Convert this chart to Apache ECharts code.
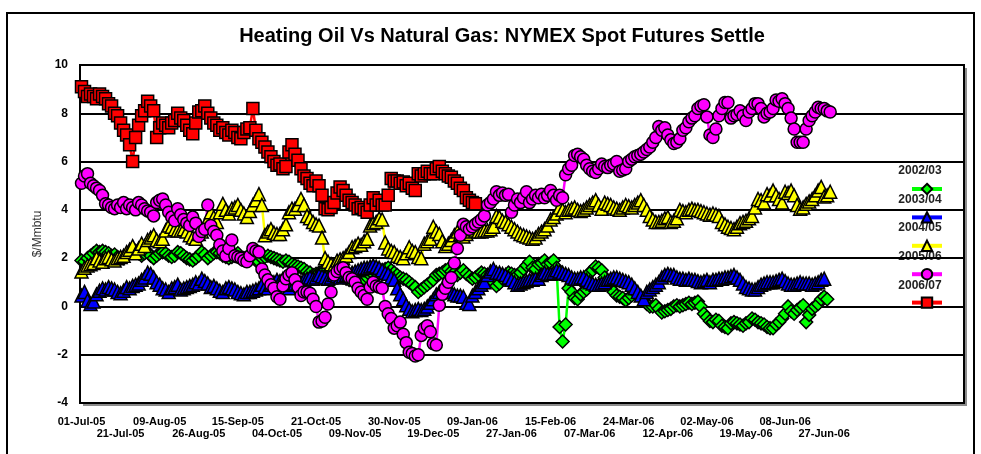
<!DOCTYPE html>
<html lang="en">

<head>
    <meta charset="UTF-8">
    <title>Heating Oil Vs Natural Gas</title>
    <script src="https://cdn.jsdelivr.net/npm/echarts@6.0.0/dist/echarts.min.js"></script>
    <style>
        * {
            margin: 0;
            padding: 0;
        }

        body {
            background: #fff;
        }

        #main {
            width: 981px;
            height: 454px;
        }
    </style>
</head>

<body>
    <div id="main"></div>
    <script>
        // trading days (NYMEX calendar) starting 01-Jul-05
        var startDate = '2005-07-01';
        var holidays = ['2005-07-04', '2005-09-05', '2005-11-24', '2005-11-25', '2005-12-26',
            '2006-01-02', '2006-01-16', '2006-02-20', '2006-04-14', '2006-05-29'];
        var tradingDays = 250;
        var axisSlots = 294;   // axis runs on past the data, legend sits there
        var labelEvery = 13;
        var months = ['Jan', 'Feb', 'Mar', 'Apr', 'May', 'Jun', 'Jul', 'Aug', 'Sep', 'Oct', 'Nov', 'Dec'];

        var seriesNames = ['2002/03', '2003/04', '2004/05', '2005/06', '2006/07'];

        var s0203 = [1.9, 1.85, 2.0, 2.1, 2.2, 2.3, 2.25, 2.3, 2.25, 2.2,
            2.1, 2.15, 2.05, 2.0, 2.0, 2.1, 2.2, 2.25, 2.3, 2.2,
            2.1, 2.2, 2.25, 2.1, 2.0, 2.1, 2.2, 2.25, 2.2, 2.1,
            2.05, 2.1, 2.25, 2.2, 2.1, 2.0, 1.95, 1.9, 2.0, 2.1,
            2.25, 2.15, 2.0, 2.1, 2.2, 2.25, 2.2, 2.1, 2.05, 2.0,
            2.05, 2.1, 2.2, 2.0, 2.0, 2.05, 2.1, 2.0, 1.9, 1.85,
            2.0, 2.05, 2.1, 2.05, 2.0, 1.95, 1.9, 1.85, 1.9, 1.85,
            1.75, 1.7, 1.65, 1.6, 1.55, 1.45, 1.4, 1.3, 1.35, 1.4,
            1.45, 1.5, 1.4, 1.4, 1.4, 1.35, 1.3, 1.2, 1.15, 1.1,
            1.1, 1.15, 1.1, 1.1, 1.15, 1.2, 1.3, 1.35, 1.4, 1.4,
            1.5, 1.55, 1.6, 1.5, 1.4, 1.3, 1.2, 1.15, 1.1, 1.0,
            0.9, 0.8, 0.6, 0.7, 0.8, 0.9, 1.0, 1.1, 1.3, 1.35,
            1.4, 1.5, 1.55, 1.45, 1.4, 1.3, 1.4, 1.5, 1.35, 1.25,
            1.15, 1.2, 1.3, 1.4, 1.35, 1.3, 1.15, 1.0, 0.85, 0.95,
            1.15, 1.25, 1.4, 1.35, 1.3, 1.3, 1.4, 1.55, 1.7, 1.85,
            1.6, 1.55, 1.75, 1.8, 1.9, 1.75, 1.8, 1.9, 1.6, -0.85,
            -1.45, -0.75, 0.75, 0.6, 0.35, 0.3, 0.5, 0.6, 0.7, 1.4,
            1.5, 1.65, 1.6, 1.5, 1.2, 1.0, 0.75, 0.6, 0.45, 0.4,
            0.35, 0.25, 0.35, 0.45, 0.6, 0.5, 0.4, 0.25, 0.1, 0.0,
            0.0, 0.05, -0.1, -0.25, -0.2, -0.15, -0.1, 0.0, 0.05, 0.0,
            0.05, 0.1, 0.15, 0.1, 0.15, 0.2, 0.0, -0.3, -0.45, -0.6,
            -0.65, -0.55, -0.6, -0.8, -0.85, -0.9, -0.7, -0.65, -0.7, -0.75,
            -0.8, -0.7, -0.65, -0.5, -0.55, -0.65, -0.7, -0.75, -0.85, -0.9,
            -0.9, -0.75, -0.65, -0.5, -0.3, 0.0, -0.2, -0.3, -0.15, -0.05,
            0.05, -0.65, -0.35, -0.1, 0.0, 0.1, 0.3, 0.4, 0.3];

        var s0304 = [0.45, 0.6, 0.25, 0.1, 0.2, 0.5, 0.65, 0.75, 0.7, 0.8,
            0.75, 0.7, 0.6, 0.55, 0.65, 0.8, 0.75, 0.85, 0.9, 0.95,
            1.1, 1.2, 1.4, 1.35, 1.2, 1.0, 0.9, 0.75, 0.7, 0.6,
            0.75, 0.8, 0.9, 0.7, 0.75, 0.8, 0.85, 0.9, 1.0, 0.95,
            1.15, 1.05, 0.95, 0.8, 0.85, 0.75, 0.65, 0.6, 0.75, 0.8,
            0.75, 0.7, 0.6, 0.55, 0.5, 0.6, 0.6, 0.65, 0.7, 0.75,
            0.9, 0.8, 0.75, 0.9, 1.0, 1.1, 1.05, 1.15, 0.95, 0.75,
            0.9, 0.95, 0.95, 1.0, 1.1, 1.15, 1.2, 1.15, 1.2, 1.3,
            1.25, 1.2, 1.15, 1.2, 1.3, 1.25, 1.2, 1.25, 1.3, 1.35,
            1.4, 1.45, 1.5, 1.55, 1.6, 1.6, 1.65, 1.7, 1.65, 1.6,
            1.5, 1.4, 1.35, 1.2, 1.1, 0.75, 0.5, 0.3, 0.05, -0.1,
            -0.2, -0.15, -0.1, -0.15, -0.1, 0.0, 0.15, 0.3, 0.5, 0.6,
            0.75, 0.7, 0.6, 0.6, 0.5, 0.45, 0.45, 0.4, 0.15, 0.1,
            0.45, 0.6, 0.75, 0.9, 1.0, 1.3, 1.45, 1.55, 1.4, 1.4,
            1.35, 1.3, 1.2, 1.1, 1.0, 0.9, 0.95, 1.0, 1.05, 1.1,
            1.1, 1.15, 1.15, 1.3, 1.4, 1.35, 1.35, 1.4, 1.5, 1.45,
            1.4, 1.35, 1.3, 1.2, 1.15, 1.15, 1.2, 1.2, 1.1, 1.0,
            0.95, 0.9, 0.9, 0.95, 1.0, 1.1, 1.15, 1.2, 1.2, 1.15,
            1.1, 1.05, 1.0, 0.9, 0.75, 0.6, 0.45, 0.3, 0.6, 0.7,
            0.8, 0.9, 1.0, 1.2, 1.3, 1.35, 1.3, 1.3, 1.2, 1.15,
            1.15, 1.1, 1.15, 1.1, 1.1, 1.05, 1.0, 1.05, 1.1, 1.0,
            1.1, 1.1, 1.15, 1.15, 1.2, 1.2, 1.25, 1.3, 1.2, 1.1,
            0.95, 0.8, 0.75, 0.7, 0.7, 0.8, 0.9, 0.95, 1.0, 1.0,
            1.0, 1.05, 1.1, 1.15, 1.05, 0.95, 0.9, 0.9, 0.95, 1.0,
            0.95, 0.95, 0.95, 0.9, 0.95, 1.0, 1.1, 1.15];

        var s0405 = [1.45, 1.6, 1.7, 1.75, 1.8, 2.0, 1.9, 1.85, 2.0, 2.05,
            1.95, 1.9, 2.0, 2.05, 2.1, 2.25, 2.35, 2.5, 2.2, 2.4,
            2.6, 2.5, 2.75, 2.85, 2.95, 2.75, 2.7, 2.8, 3.15, 3.35,
            3.3, 3.2, 3.15, 3.15, 3.2, 3.1, 2.95, 2.85, 2.8, 3.0,
            3.1, 3.35, 3.6, 3.9, 3.7, 3.5, 3.9, 4.25, 4.0, 3.85,
            4.05, 4.1, 4.2, 4.0, 3.85, 3.7, 3.95, 4.2, 4.4, 4.65,
            4.2, 2.95, 3.1, 3.2, 3.05, 3.0, 3.0, 3.2, 3.4, 3.9,
            4.05, 4.05, 4.2, 4.45, 4.2, 3.75, 3.65, 3.5, 3.4, 3.35,
            2.85, 2.0, 1.85, 1.75, 1.7, 1.9, 1.95, 2.0, 2.1, 2.25,
            2.45, 2.5, 2.6, 2.55, 2.7, 2.8, 3.35, 3.45, 3.5, 3.65,
            3.6, 2.65, 2.4, 2.3, 2.25, 2.1, 2.05, 2.0, 2.2, 2.45,
            2.3, 2.25, 2.05, 2.0, 2.6, 2.7, 2.8, 3.3, 3.1, 3.0,
            2.7, 2.5, 2.6, 2.75, 2.95, 3.1, 3.0, 2.9, 3.0, 3.1,
            3.2, 3.15, 3.1, 3.1, 3.15, 3.15, 3.2, 3.3, 3.75, 3.7,
            3.55, 3.5, 3.4, 3.3, 3.2, 3.1, 3.0, 2.95, 2.9, 2.85,
            2.8, 2.85, 3.0, 3.1, 3.2, 3.35, 3.6, 3.7, 3.85, 4.1,
            4.0, 3.9, 4.0, 4.05, 4.1, 4.0, 3.95, 4.0, 4.1, 4.2,
            4.3, 4.4, 4.2, 4.05, 4.3, 4.25, 4.2, 4.1, 4.05, 4.0,
            4.1, 4.2, 4.15, 4.1, 4.2, 4.3, 4.4, 4.2, 4.0, 3.75,
            3.6, 3.5, 3.5, 3.55, 3.65, 3.7, 3.5, 3.55, 3.65, 4.0,
            3.95, 3.9, 4.0, 4.05, 4.0, 4.0, 3.95, 3.9, 3.85, 3.8,
            3.85, 3.8, 3.75, 3.5, 3.4, 3.3, 3.25, 3.2, 3.3, 3.45,
            3.5, 3.55, 3.65, 3.75, 4.1, 4.45, 4.4, 4.3, 4.65, 4.6,
            4.8, 4.6, 4.45, 4.3, 4.75, 4.7, 4.8, 4.6, 4.2, 4.05,
            4.1, 4.25, 4.35, 4.45, 4.6, 4.8, 4.95, 4.55, 4.6, 4.75];

        var s0506 = [5.1, 5.4, 5.5, 5.1, 5.0, 4.9, 4.8, 4.6, 4.25, 4.2,
            4.1, 4.05, 4.2, 4.1, 4.3, 4.05, 4.2, 4.1, 4.0, 4.3,
            4.2, 4.05, 3.95, 3.9, 3.75, 4.3, 4.4, 4.45, 4.2, 3.9,
            3.7, 3.55, 4.05, 3.8, 3.6, 3.45, 3.35, 3.7, 3.45, 2.9,
            3.1, 3.2, 4.2, 3.35, 3.1, 2.95, 2.55, 2.3, 2.1, 2.4,
            2.75, 2.1, 2.05, 2.0, 1.9, 1.85, 2.1, 2.4, 2.3, 2.25,
            1.55, 1.3, 1.1, 0.9, 0.75, 0.4, 0.3, 0.85, 1.15, 1.3,
            1.4, 1.1, 0.8, 0.45, 0.6, 0.6, 0.55, 0.3, 0.0, -0.65,
            -0.6, -0.45, 0.1, 0.6, 1.3, 1.45, 1.55, 1.6, 1.4, 1.2,
            1.15, 1.0, 0.75, 0.6, 0.45, 0.3, 0.8, 1.0, 0.85, 0.8,
            0.75, 0.0, -0.3, -0.5, -0.9, -0.8, -0.65, -1.15, -1.5, -1.9,
            -1.95, -2.05, -2.0, -1.2, -0.9, -0.8, -1.05, -1.55, -1.6, 0.05,
            0.5, 0.75, 1.0, 1.2, 1.8, 2.4, 2.95, 3.4, 3.3, 3.2,
            3.3, 3.4, 3.5, 3.6, 3.75, 4.2, 4.3, 4.45, 4.75, 4.6,
            4.7, 4.6, 4.65, 3.9, 4.2, 4.45, 4.3, 4.5, 4.75, 4.3,
            4.45, 4.6, 4.5, 4.65, 4.5, 4.6, 4.8, 4.6, 4.4, 4.6,
            4.5, 5.45, 5.7, 5.85, 6.25, 6.3, 6.2, 6.1, 5.85, 5.7,
            5.6, 5.55, 5.7, 5.9, 5.8, 5.75, 5.85, 5.9, 6.0, 5.6,
            5.65, 5.7, 6.0, 6.1, 6.2, 6.25, 6.3, 6.4, 6.5, 6.6,
            6.8, 7.0, 7.45, 7.3, 7.4, 7.1, 6.9, 6.75, 6.8, 6.95,
            7.3, 7.4, 7.65, 7.8, 7.9, 8.2, 8.3, 8.35, 7.85, 7.1,
            7.0, 7.35, 7.9, 8.2, 8.45, 8.45, 7.8, 7.9, 7.95, 8.1,
            7.9, 7.7, 8.05, 8.2, 8.4, 8.4, 8.2, 7.85, 8.0, 8.05,
            8.2, 8.55, 8.5, 8.6, 8.4, 8.2, 7.8, 7.35, 6.8, 6.8,
            6.8, 7.35, 7.7, 7.9, 8.05, 8.25, 8.2, 8.2, 8.1, 8.05];

        var s0607 = [9.1, 8.9, 8.7, 8.8, 8.7, 8.6, 8.8, 8.7, 8.6, 8.4,
            8.3, 8.0, 7.9, 7.6, 7.3, 7.1, 6.7, 6.0, 7.0, 7.5,
            7.9, 8.1, 8.5, 8.3, 8.1, 7.0, 7.4, 7.6, 7.5, 7.4,
            7.6, 7.7, 8.0, 7.8, 7.7, 7.5, 7.3, 7.15, 7.6, 8.05,
            8.1, 8.3, 8.0, 7.8, 7.6, 7.5, 7.3, 7.4, 7.2, 7.1,
            7.3, 7.2, 7.0, 6.95, 7.2, 7.35, 7.4, 8.2, 7.3, 6.95,
            6.8, 6.6, 6.4, 6.2, 6.0, 5.85, 5.9, 5.7, 5.8, 6.4,
            6.7, 6.3, 6.05, 5.7, 5.4, 5.3, 5.1, 5.0, 5.2, 5.0,
            4.6, 4.05, 4.0, 4.1, 4.3, 4.7, 4.95, 4.8, 4.6, 4.4,
            4.3, 4.2, 4.05, 4.1, 4.0, 3.9, 4.2, 4.5, 4.2, 4.4,
            4.2, 4.2, 4.6, 5.3, 5.2, 5.2, 5.1, 5.15, 5.0, 5.1,
            4.9, 4.8, 5.5, 5.4, 5.5, 5.6, 5.5, 5.5, 5.7, 5.8,
            5.6, 5.5, 5.4, 5.35, 5.2, 5.1, 4.9, 4.8, 4.5, 4.4,
            4.3, 4.25];

        var yTicks = { min: -4, max: 10, step: 2 };

        function pad(n) {
            return n < 10 ? '0' + n : '' + n;
        }

        function buildCategories() {
            var list = [];
            var d = new Date(startDate + 'T00:00:00Z');
            while (list.length < tradingDays) {
                var iso = d.toISOString().slice(0, 10);
                var wd = d.getUTCDay();
                if (wd !== 0 && wd !== 6 && holidays.indexOf(iso) < 0) {
                    list.push(pad(d.getUTCDate()) + '-' + months[d.getUTCMonth()] + '-' + String(d.getUTCFullYear()).slice(2));
                }
                d.setUTCDate(d.getUTCDate() + 1);
            }
            while (list.length < axisSlots) list.push('');
            return list;
        }
        var categories = buildCategories();

        var looks = [
            { symbol: 'diamond', color: '#00ff00', size: 13 },
            { symbol: 'triangle', color: '#0000ff', size: 13 },
            { symbol: 'triangle', color: '#ffff00', size: 13 },
            { symbol: 'circle', color: '#ff00ff', size: 12 },
            { symbol: 'rect', color: '#ff0000', size: 12 }
        ];
        var values = [s0203, s0304, s0405, s0506, s0607];
        var font = 'Arial, "Liberation Sans", sans-serif';

        var chartDom = document.getElementById('main');
        var myChart = echarts.init(chartDom);

        var legendTop = 177.5;
        var legendStep = 28.7;

        var option = {
            backgroundColor: '#fff',
            animation: false,
            title: {
                text: 'Heating Oil Vs Natural Gas: NYMEX Spot Futures Settle',
                left: 497,
                textAlign: 'center',
                top: 21,
                textStyle: { fontFamily: font, fontSize: 20, fontWeight: 'bold', color: '#000' }
            },
            grid: {
                left: 80, right: 17, top: 65, bottom: 51,
                show: true,
                backgroundColor: '#fff',
                borderColor: '#000',
                borderWidth: 2
            },
            legend: {
                orient: 'vertical',
                left: 905,
                top: legendTop,
                itemWidth: 30,
                itemHeight: 13,
                itemGap: legendStep - 13,
                selectedMode: false,
                lineStyle: { width: 4 },
                formatter: function () { return ''; },
                data: seriesNames
            },
            graphic: [
                {
                    type: 'rect', z: -10, silent: true,
                    shape: { x: 83, y: 68, width: 884, height: 338 },
                    style: { fill: '#8c8c8c' }
                },
                {
                    type: 'rect', z: 100, silent: true,
                    shape: { x: 7, y: 13, width: 967, height: 470 },
                    style: { fill: 'transparent', stroke: '#000', lineWidth: 2 }
                }
            ].concat(seriesNames.map(function (n, i) {
                return {
                    type: 'text', silent: true,
                    x: 920,
                    y: legendTop + 6.5 + i * legendStep - 13.5,
                    style: {
                        text: n, align: 'center', verticalAlign: 'middle',
                        font: 'bold 12px ' + font, fill: '#222'
                    }
                };
            })),
            xAxis: {
                type: 'category',
                data: categories,
                boundaryGap: true,
                axisLine: { lineStyle: { color: '#000', width: 2 } },
                axisTick: { show: false },
                splitLine: { show: false },
                axisLabel: {
                    interval: 0,
                    margin: 13,
                    lineHeight: 12,
                    fontFamily: font,
                    fontSize: 11,
                    fontWeight: 'bold',
                    color: '#000',
                    formatter: function (value) {
                        var idx = categories.indexOf(value);
                        if (!value || idx % labelEvery !== 0) return '';
                        return (idx / labelEvery) % 2 === 1 ? '\n' + value : value;
                    }
                }
            },
            yAxis: {
                type: 'value',
                min: yTicks.min,
                max: yTicks.max,
                interval: yTicks.step,
                name: '$/Mmbtu',
                nameLocation: 'middle',
                nameGap: 36,
                nameTextStyle: { fontFamily: font, fontSize: 12, color: '#333' },
                axisLine: { show: true, lineStyle: { color: '#000', width: 2 } },
                axisTick: { show: false },
                splitLine: { lineStyle: { color: '#000', width: 2 } },
                axisLabel: {
                    margin: 12,
                    fontFamily: font,
                    fontSize: 12,
                    fontWeight: 'bold',
                    color: '#000'
                }
            },
            series: seriesNames.map(function (n, i) {
                return {
                    name: n,
                    type: 'line',
                    data: values[i],
                    symbol: looks[i].symbol,
                    symbolSize: looks[i].size,
                    showAllSymbol: true,
                    lineStyle: { color: looks[i].color, width: 2.5 },
                    itemStyle: { color: looks[i].color, borderColor: '#000', borderWidth: 1.5 },
                    emphasis: { disabled: true }
                };
            })
        };
        myChart.setOption(option);
    </script>
</body>

</html>
